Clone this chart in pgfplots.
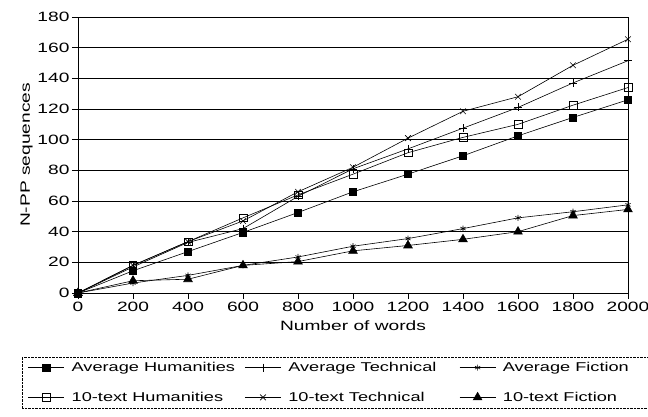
\documentclass[border=0pt]{standalone}
\usepackage{pgfplots}
\pgfplotsset{compat=1.18}
\usepackage{fontspec}
\setmainfont{Liberation Sans}[FakeStretch=1.42]

% values
\pgfplotstableread{
words avghum avgtech avgfic tenhum tentech tenfic
0     0      0       0      0      0       0
200   14.5   17      6.5    18     18      8
400   27     33      11.5   33.5   33.5    9
600   39.5   42      18     49     47      18
800   52.5   63      23.5   64     66      20.5
1000  66     81      30.5   77.5   82      27.5
1200  77.5   94      35.5   91.5   101     31
1400  89.5   107.5   42     101.5  118.5   35
1600  102.5  121     49     110    128     40
1800  114.5  137     53     122.5  148.5   50.5
2000  126    151.5   57.5   134    165.5   54.5
}\data

\begin{document}
\begin{tikzpicture}
\useasboundingbox (0,0) rectangle (648pt,416pt);
\begin{axis}[
  at={(78pt,123pt)}, anchor=south west,
  scale only axis,
  width=550pt, height=276pt,
  xmin=0, xmax=2000, ymin=0, ymax=180,
  xtick={0,200,...,2000}, ytick={0,20,...,180},
  ymajorgrids,
  major grid style={black, line width=0.6pt},
  axis line style={black, line width=0.6pt},
  tick style={black, line width=0.6pt},
  tick align=outside, major tick length=6pt,
  xtick pos=bottom, ytick pos=left,
  scaled ticks=false,
  /pgf/number format/assume math mode=true,
  /pgf/number format/set thousands separator={},
  ticklabel style={font=\fontsize{13.5}{15}\selectfont},
  yticklabel style={xshift=1pt},
  label style={font=\fontsize{13.5}{15}\selectfont},
  xlabel={Number of words},
  ylabel={N-PP sequences},
  xlabel style={yshift=-2pt},
  ylabel style={yshift=-2pt},
  clip=false,
  every axis plot/.append style={black, line width=0.6pt},
  legend columns=3,
  legend cell align=left,
  legend style={
    at={(-0.102,-0.232)}, anchor=north west,
    draw=black, densely dotted, line width=0.4pt,
    font=\fontsize{12.8}{14}\selectfont,
    inner xsep=6pt, inner ysep=5pt,
    row sep=19pt,
    nodes={inner sep=0pt},
    /tikz/column 1/.style={column sep=7pt},
    /tikz/column 3/.style={column sep=7pt},
    /tikz/column 5/.style={column sep=7pt},
  },
  legend image code/.code={%
    \draw[solid, mark repeat=2, mark phase=2]
      plot coordinates {(0pt,0pt) (18pt,0pt) (36pt,0pt)};},
]
\addplot[mark=square*, mark size=3.6pt, mark options={solid, fill=black}] table[x=words, y=avghum] {\data};
\addplot[mark=+, mark size=4pt, mark options={solid}] table[x=words, y=avgtech] {\data};
\addplot[mark=asterisk, mark size=3pt, mark options={solid}] table[x=words, y=avgfic] {\data};
\addplot[mark=square, mark size=3.8pt, mark options={solid, fill=white}] table[x=words, y=tenhum] {\data};
\addplot[mark=x, mark size=4pt, mark options={solid}] table[x=words, y=tentech] {\data};
\addplot[mark=triangle*, mark size=5pt, mark options={solid, fill=black}] table[x=words, y=tenfic] {\data};
\legend{\makebox[173pt][l]{Average Humanities}, \makebox[171pt][l]{Average Technical}, \makebox[170pt][l]{Average Fiction},
        10-text Humanities, 10-text Technical, 10-text Fiction}
\end{axis}
\end{tikzpicture}
\end{document}
